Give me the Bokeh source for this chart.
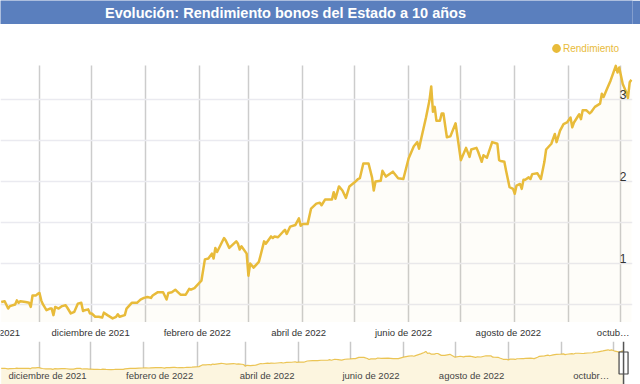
from datetime import datetime
import pandas as pd
from bokeh.plotting import figure
from bokeh.models import (Range1d, FixedTicker, Label, Legend, LegendItem,
                          ColumnDataSource, Span)
from bokeh.core.properties import value
from bokeh.layouts import column
from bokeh.embed import file_html
from bokeh.resources import INLINE

TITLE = "Evolución: Rendimiento bonos del Estado a 10 años"
SERIES_NAME = "Rendimiento"

dates = [
    "2021-10-10", "2021-10-12", "2021-10-14", "2021-10-15", "2021-10-18", "2021-10-19",
    "2021-10-20", "2021-10-21", "2021-10-24", "2021-10-26", "2021-10-27", "2021-10-28",
    "2021-10-30", "2021-10-31", "2021-11-01", "2021-11-02", "2021-11-03", "2021-11-05",
    "2021-11-07", "2021-11-08", "2021-11-09", "2021-11-10", "2021-11-12", "2021-11-14",
    "2021-11-16", "2021-11-17", "2021-11-19", "2021-11-21", "2021-11-23", "2021-11-25",
    "2021-11-26", "2021-11-27", "2021-11-29", "2021-11-30", "2021-12-01", "2021-12-03",
    "2021-12-05", "2021-12-07", "2021-12-08", "2021-12-10", "2021-12-13", "2021-12-15",
    "2021-12-16", "2021-12-17", "2021-12-20", "2021-12-21", "2021-12-24", "2021-12-25",
    "2021-12-27", "2021-12-29", "2021-12-31", "2022-01-02", "2022-01-04", "2022-01-05",
    "2022-01-08", "2022-01-09", "2022-01-11", "2022-01-13", "2022-01-14", "2022-01-16",
    "2022-01-18", "2022-01-19", "2022-01-21", "2022-01-24", "2022-01-26", "2022-01-27",
    "2022-01-29", "2022-02-02", "2022-02-04", "2022-02-06", "2022-02-08", "2022-02-09",
    "2022-02-10", "2022-02-11", "2022-02-15", "2022-02-16", "2022-02-18", "2022-02-22",
    "2022-02-23", "2022-02-24", "2022-02-25", "2022-02-28", "2022-03-01", "2022-03-02",
    "2022-03-04", "2022-03-07", "2022-03-08", "2022-03-10", "2022-03-11", "2022-03-14",
    "2022-03-15", "2022-03-16", "2022-03-18", "2022-03-21", "2022-03-22", "2022-03-23",
    "2022-03-25", "2022-03-28", "2022-03-30", "2022-03-31", "2022-04-01", "2022-04-04",
    "2022-04-06", "2022-04-09", "2022-04-11", "2022-04-12", "2022-04-14", "2022-04-18",
    "2022-04-19", "2022-04-20", "2022-04-22", "2022-04-24", "2022-04-26", "2022-04-28",
    "2022-05-01", "2022-05-03", "2022-05-04", "2022-05-06", "2022-05-09", "2022-05-11",
    "2022-05-12", "2022-05-13", "2022-05-16", "2022-05-17", "2022-05-19", "2022-05-23",
    "2022-05-26", "2022-05-29", "2022-06-01", "2022-06-04", "2022-06-06", "2022-06-07",
    "2022-06-08", "2022-06-11", "2022-06-13", "2022-06-14", "2022-06-15", "2022-06-16",
    "2022-06-17", "2022-06-19", "2022-06-20", "2022-06-21", "2022-06-23", "2022-06-25",
    "2022-06-28", "2022-07-01", "2022-07-04", "2022-07-06", "2022-07-07", "2022-07-10",
    "2022-07-11", "2022-07-13", "2022-07-14", "2022-07-16", "2022-07-19", "2022-07-22",
    "2022-07-23", "2022-07-24", "2022-07-26", "2022-07-27", "2022-07-29", "2022-07-31",
    "2022-08-01", "2022-08-02", "2022-08-04", "2022-08-05", "2022-08-06", "2022-08-07",
    "2022-08-09", "2022-08-10", "2022-08-11", "2022-08-14", "2022-08-16", "2022-08-18",
    "2022-08-19", "2022-08-22", "2022-08-24", "2022-08-25", "2022-08-27", "2022-08-29",
    "2022-08-31", "2022-09-02", "2022-09-03", "2022-09-04", "2022-09-07", "2022-09-08",
    "2022-09-09", "2022-09-11", "2022-09-13", "2022-09-14", "2022-09-16", "2022-09-19",
    "2022-09-20", "2022-09-21", "2022-09-23", "2022-09-25", "2022-09-28", "2022-09-29",
    "2022-09-30", "2022-10-01", "2022-10-02", "2022-10-04", "2022-10-05", "2022-10-06",
    "2022-10-07",
]

rendimiento = [
    0.53, 0.54, 0.45, 0.48, 0.50, 0.55,
    0.52, 0.54, 0.53, 0.52, 0.47, 0.61,
    0.61, 0.63, 0.64, 0.55, 0.50, 0.43,
    0.45, 0.45, 0.37, 0.47, 0.45, 0.48,
    0.49, 0.46, 0.39, 0.41, 0.51, 0.52,
    0.42, 0.43, 0.44, 0.39, 0.39, 0.35,
    0.35, 0.34, 0.40, 0.37, 0.33, 0.35,
    0.38, 0.35, 0.37, 0.45, 0.52, 0.52,
    0.52, 0.56, 0.58, 0.59, 0.58, 0.61,
    0.65, 0.65, 0.65, 0.56, 0.64, 0.65,
    0.68, 0.66, 0.62, 0.62, 0.69, 0.68,
    0.70, 0.79, 1.05, 1.06, 1.12, 1.06,
    1.19, 1.14, 1.31, 1.28, 1.19, 1.27,
    1.24, 1.17, 1.21, 1.12, 0.85, 1.00,
    0.95, 1.02, 1.10, 1.27, 1.24, 1.33,
    1.31, 1.33, 1.32, 1.39, 1.41, 1.36,
    1.45, 1.47, 1.55, 1.46, 1.48, 1.48,
    1.67, 1.73, 1.74, 1.71, 1.78, 1.78,
    1.87, 1.79, 1.94, 1.89, 1.80, 1.94,
    1.99, 2.03, 2.04, 2.22, 2.22, 2.05,
    1.89, 2.00, 2.01, 2.13, 2.06, 2.12,
    2.04, 2.03, 2.28, 2.43, 2.48, 2.40,
    2.50, 2.78, 2.99, 3.16, 2.85, 2.91,
    2.74, 2.74, 2.83, 2.83, 2.54, 2.55,
    2.71, 2.26, 2.41, 2.30, 2.39, 2.41,
    2.36, 2.24, 2.32, 2.29, 2.48, 2.46,
    2.26, 2.25, 2.24, 2.13, 1.93, 1.91,
    1.85, 1.95, 1.97, 1.91, 2.02, 2.02,
    2.05, 2.03, 2.09, 2.10, 2.03, 2.24,
    2.39, 2.46, 2.58, 2.48, 2.62, 2.70,
    2.72, 2.78, 2.66, 2.72, 2.82, 2.76,
    2.87, 2.87, 2.83, 2.85, 2.91, 2.95,
    3.07, 3.03, 3.13, 3.23, 3.41, 3.33,
    3.39, 3.29, 3.19, 3.09, 3.02, 3.21,
    3.24,
]

grid_months = ["2021-11-01", "2021-12-01", "2022-01-01", "2022-02-01", "2022-03-01",
               "2022-04-01", "2022-05-01", "2022-06-01", "2022-07-01", "2022-08-01",
               "2022-09-01", "2022-10-01"]
main_label_months = ["2021-10-01", "2021-12-01", "2022-02-01", "2022-04-01",
                     "2022-06-01", "2022-08-01", "2022-10-01"]
main_labels = ["octubre de 2021", "diciembre de 2021", "febrero de 2022", "abril de 2022",
               "junio de 2022", "agosto de 2022", "octub…"]
range_label_months = ["2021-12-01", "2022-02-01", "2022-04-01", "2022-06-01",
                      "2022-08-01", "2022-10-01"]
range_labels = ["diciembre de 2021", "febrero de 2022", "abril de 2022", "junio de 2022",
                "agosto de 2022", "octubr…"]
y_label_ticks = [1, 2, 3]
y_grid_ticks = [0.5, 1.0, 1.5, 2.0, 2.5, 3.0]

GOLD = "#E8BB3A"
BLUE = "#5A7FBE"
FONT = "Liberation Sans"
W = 640


def ms(d):
    return pd.Timestamp(d).timestamp() * 1000.0


x = pd.to_datetime(dates)
src = ColumnDataSource(data=dict(x=x, y=rendimiento))

X_START = datetime(2021, 10, 9, 14, 24)
x_range_main = Range1d(X_START, datetime(2022, 10, 7, 14, 40))   # frame 0..632
x_range_full = Range1d(X_START, datetime(2022, 10, 12, 5, 0))    # frame 0..640
Y0, Y1 = 0.28, 3.915
LEGEND_ZONE = 3.415

# ---------- title bar ----------
t = figure(width=W, height=24, x_range=Range1d(0, 1), y_range=Range1d(0, 1),
           x_axis_location=None, y_axis_location=None, title=None,
           toolbar_location=None, output_backend="svg", min_border=0,
           background_fill_color=BLUE, border_fill_color=BLUE, outline_line_color=None)
t.grid.visible = False
t.add_layout(Label(x=285, y=12, x_units="screen", y_units="screen", text=TITLE,
                   text_align="center", text_baseline="middle", text_color="white",
                   text_font=FONT, text_font_style="bold", text_font_size="14.5px"))

# ---------- main chart ----------
p = figure(width=W, height=298, x_axis_type="datetime", x_range=x_range_main,
           y_range=Range1d(Y0, Y1), x_axis_location=None, y_axis_location=None,
           title=None, toolbar_location=None, output_backend="svg",
           min_border_left=0, min_border_right=8, min_border_top=0, min_border_bottom=0,
           background_fill_color="white", border_fill_color="white",
           outline_line_color=None)

p.xgrid.ticker = FixedTicker(ticks=[ms(m) for m in grid_months])
p.xgrid.grid_line_color = "#cccccc"
p.xgrid.grid_line_width = 1.5
p.ygrid.ticker = FixedTicker(ticks=y_grid_ticks)
p.ygrid.grid_line_color = "#eaeaf0"
p.ygrid.grid_line_width = 1.5
try:
    p.xgrid.cross_bounds = (Y0, LEGEND_ZONE)
except Exception:
    p.xgrid.visible = False
    p.segment(x0=[ms(m) for m in grid_months], x1=[ms(m) for m in grid_months],
              y0=[Y0] * len(grid_months), y1=[LEGEND_ZONE] * len(grid_months),
              line_color="#cccccc", line_width=1.5)

p.varea(x="x", y1=Y0, y2="y", source=src, fill_color=GOLD, fill_alpha=0.03)
p.line(x="x", y="y", source=src, line_color=GOLD, line_width=2.5, line_join="round")

ylab_src = ColumnDataSource(data=dict(x=[x_range_main.end] * len(y_label_ticks),
                                      y=y_label_ticks,
                                      t=[str(v) for v in y_label_ticks]))
p.text(x="x", y="y", text="t", source=ylab_src, text_align="right",
       text_baseline="alphabetic", x_offset=-6, y_offset=-5, text_color="#333333",
       text_font_size="12px", text_font=value(FONT))

# legend marker: hidden scatter on the series, shown only in the legend
dot = p.scatter(x="x", y="y", source=src, marker="circle", size=5, fill_color=GOLD,
                line_color=GOLD, line_width=4, visible=False)
legend = Legend(items=[LegendItem(label=SERIES_NAME, renderers=[dot])],
                location=(550, 268), glyph_width=12, glyph_height=12,
                label_height=12, label_width=10, padding=0, margin=0, spacing=0,
                label_standoff=1, background_fill_alpha=0, border_line_color=None,
                label_text_color=GOLD, label_text_font=FONT, label_text_font_size="10px")
p.add_layout(legend)

# ---------- date labels strip ----------
s = figure(width=W, height=19, x_axis_type="datetime", x_range=x_range_full,
           y_range=Range1d(0, 1), x_axis_location=None, y_axis_location=None,
           title=None, toolbar_location=None, output_backend="svg", min_border=0,
           background_fill_color="white", border_fill_color="white",
           outline_line_color=None)
s.grid.visible = False
lab_src = ColumnDataSource(data=dict(x=pd.to_datetime(main_label_months),
                                     y=[0.5] * len(main_labels), t=main_labels))
s.text(x="x", y="y", text="t", source=lab_src, text_align="center",
       text_baseline="middle", text_color="#333333", text_font=value(FONT),
       text_font_size="9.5px")

# ---------- range selector ----------
R0, R1 = -1.99, 4.70
r = figure(width=W, height=43, x_axis_type="datetime", x_range=x_range_full,
           y_range=Range1d(R0, R1), x_axis_location=None, y_axis_location=None,
           title=None, toolbar_location=None, output_backend="svg", min_border=0,
           background_fill_color="white", border_fill_color="white",
           outline_line_color=None)
r.xgrid.ticker = FixedTicker(ticks=[ms(m) for m in grid_months])
r.xgrid.grid_line_color = "#c8c8c8"
r.xgrid.grid_line_width = 1.5
r.ygrid.visible = False
r.varea(x="x", y1=R0, y2="y", source=src, fill_color="#FCF5DF")
r.line(x="x", y="y", source=src, line_color=GOLD, line_width=1.2, line_alpha=0.85)
for m, lab in zip(range_label_months, range_labels):
    r.add_layout(Label(x=ms(m), y=9, y_units="screen", text=lab, text_align="right",
                       text_baseline="middle", x_offset=-4, text_color="#444444",
                       text_font=FONT, text_font_size="9.5px"))
last = ms(dates[-1])
r.add_layout(Span(location=last, dimension="height", line_color="#555555", line_width=1.5))
r.rect(x=[last], y=[(R0 + R1) / 2], width=9, height=22, width_units="screen",
       height_units="screen", fill_color="white", line_color="#444444", line_width=1.2)

layout = column(t, p, s, r, spacing=0)
open("out.html", "w").write(file_html(layout, INLINE))
